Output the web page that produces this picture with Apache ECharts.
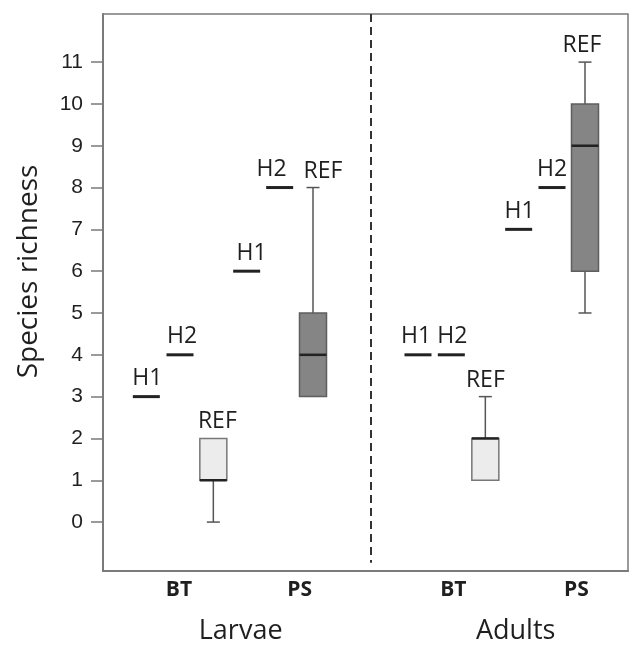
<!DOCTYPE html>
<html>
<head>
<meta charset="utf-8">
<script src="https://cdn.jsdelivr.net/npm/echarts@6/dist/echarts.min.js"></script>
<style>
  html, body { margin: 0; padding: 0; background: #fff; }
  #chart { width: 631px; height: 646px; }
</style>
</head>
<body>
<div id="chart"></div>
<script>
  // hybrid treatments (single values)
  var hLabels = ["H1", "H2", "H1", "H2", "H1", "H2", "H1", "H2"];
  var hPos = [1.3, 2.31, 4.31, 5.3, 9.45, 10.45, 12.47, 13.47];
  var hValues = [3, 4, 6, 8, 4, 4, 7, 8];

  // reference sites (box plots)
  var refSite = ["BT", "PS", "BT", "PS"];
  var refPos = [3.31, 6.3, 11.47, 14.46];
  var refMin = [0, 3, 1, 5];
  var refQ1 = [1, 3, 1, 6];
  var refMedian = [1, 4, 2, 9];
  var refQ3 = [2, 5, 2, 10];
  var refMax = [2, 8, 3, 11];

  // axis labels
  var yTicks = [0, 1, 2, 3, 4, 5, 6, 7, 8, 9, 10, 11];
  var siteTickPos = [2.28, 5.9, 10.51, 14.2];
  var siteTickLabels = ["BT", "PS", "BT", "PS"];
  var stageTickPos = [4.13, 12.38];
  var stageTickLabels = ["Larvae", "Adults"];
  var dividerPos = 8.04;

  // small horizontal label nudges (px), as placed in the original figure
  var hLabelShift = [1, 2, 5, -8, -2, 1, 1, 0];
  var refLabelShift = [4, 10, 0, -3];

  var textColor = "#1f1f1f";
  var lineColor = "#7a7a7a";

  function pickLabel(posArr, labelArr) {
    return function(v) {
      for (var i = 0; i < posArr.length; i++) {
        if (Math.abs(posArr[i] - v) < 0.01) return labelArr[i];
      }
      return "";
    };
  }

  var hData = hPos.map(function(p, i) {
    return { value: [p, hValues[i]], name: hLabels[i], label: { offset: [hLabelShift[i], 0] } };
  });
  var boxData = refPos.map(function(p, i) {
    return [p, refMin[i], refQ1[i], refMedian[i], refQ3[i], refMax[i]];
  });

  function renderBox(params, api) {
    var x = api.value(0);
    var pMin = api.coord([x, api.value(1)]);
    var pQ1 = api.coord([x, api.value(2)]);
    var pMed = api.coord([x, api.value(3)]);
    var pQ3 = api.coord([x, api.value(4)]);
    var pMax = api.coord([x, api.value(5)]);
    var cx = pMin[0];
    var halfW = 13.5;
    var capW = 6.5;
    var dark = refSite[params.dataIndex] === "PS";
    var children = [];
    var wStyle = { stroke: "#555", lineWidth: 1.5 };
    if (pMax[1] < pQ3[1]) {
      children.push({ type: "line", shape: { x1: cx, y1: pMax[1], x2: cx, y2: pQ3[1] }, style: wStyle });
      children.push({ type: "line", shape: { x1: cx - capW, y1: pMax[1], x2: cx + capW, y2: pMax[1] }, style: wStyle });
    }
    if (pMin[1] > pQ1[1]) {
      children.push({ type: "line", shape: { x1: cx, y1: pQ1[1], x2: cx, y2: pMin[1] }, style: wStyle });
      children.push({ type: "line", shape: { x1: cx - capW, y1: pMin[1], x2: cx + capW, y2: pMin[1] }, style: wStyle });
    }
    children.push({
      type: "rect",
      shape: { x: cx - halfW, y: pQ3[1], width: halfW * 2, height: pQ1[1] - pQ3[1] },
      style: { fill: dark ? "#858585" : "#ececec", stroke: dark ? "#5e5e5e" : "#777", lineWidth: 1.5 }
    });
    children.push({
      type: "line",
      shape: { x1: cx - halfW, y1: pMed[1], x2: cx + halfW, y2: pMed[1] },
      style: { stroke: "#222", lineWidth: 2.5 }
    });
    children.push({
      type: "text",
      style: {
        text: "REF",
        x: cx + refLabelShift[params.dataIndex],
        y: pMax[1] - 5,
        align: "center",
        verticalAlign: "bottom",
        fontFamily: "Open Sans",
        fontSize: 23,
        fill: textColor
      }
    });
    return { type: "group", children: children };
  }

  var chart = echarts.init(document.getElementById("chart"));
  chart.setOption({
    animation: false,
    backgroundColor: "#fff",
    grid: {
      left: 103,
      right: 3,
      top: 14,
      bottom: 75,
      show: true,
      borderColor: lineColor,
      borderWidth: 1.5
    },
    xAxis: [
      {
        type: "value",
        min: 0,
        max: 15.75,
        splitLine: { show: false },
        axisTick: { show: false },
        axisLine: { show: true, onZero: false, lineStyle: { color: lineColor, width: 2 } },
        axisLabel: {
          customValues: siteTickPos,
          formatter: pickLabel(siteTickPos, siteTickLabels),
          margin: 9,
          fontFamily: "Open Sans",
          fontWeight: "bold",
          fontSize: 21,
          color: textColor
        }
      },
      {
        type: "value",
        min: 0,
        max: 15.75,
        position: "bottom",
        splitLine: { show: false },
        axisTick: { show: false },
        axisLine: { show: false, onZero: false },
        axisLabel: {
          customValues: stageTickPos,
          formatter: pickLabel(stageTickPos, stageTickLabels),
          margin: 47,
          fontFamily: "Open Sans",
          fontSize: 27,
          color: textColor
        }
      }
    ],
    yAxis: {
      type: "value",
      min: -1.17,
      max: 12.15,
      splitLine: { show: false },
      axisLine: { show: true, onZero: false, lineStyle: { color: lineColor, width: 2 } },
      axisTick: {
        show: true,
        customValues: yTicks,
        length: 12,
        lineStyle: { color: lineColor, width: 1.5 }
      },
      axisLabel: {
        customValues: yTicks,
        margin: 20,
        fontFamily: "Liberation Sans",
        fontSize: 21,
        color: textColor
      },
      name: "Species richness",
      nameLocation: "middle",
      nameGap: 60,
      nameRotate: 90,
      nameTextStyle: {
        fontFamily: "Open Sans",
        fontSize: 28,
        color: textColor,
        padding: [0, 0, 0, 42]
      }
    },
    series: [
      {
        type: "scatter",
        data: hData,
        symbol: "rect",
        symbolSize: [27, 3],
        itemStyle: { color: "#222", opacity: 1 },
        label: {
          show: true,
          position: "top",
          distance: 5,
          formatter: "{b}",
          fontFamily: "Open Sans",
          fontSize: 23,
          color: textColor
        },
        markLine: {
          silent: true,
          symbol: "none",
          label: { show: false },
          lineStyle: { color: "#333", type: [8, 5], width: 2, opacity: 1 },
          data: [[{ coord: [dividerPos, 12.15] }, { coord: [dividerPos, -0.97] }]]
        }
      },
      {
        type: "custom",
        data: boxData,
        encode: { x: 0, y: [1, 2, 3, 4, 5] },
        renderItem: renderBox
      }
    ]
  });
</script>
</body>
</html>
